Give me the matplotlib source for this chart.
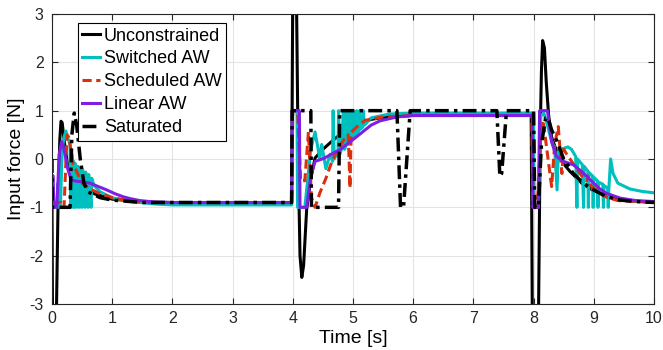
import matplotlib
matplotlib.use("Agg")
import matplotlib.pyplot as plt

# ---------------- data ----------------
unc_t = [0.0, 0.01, 0.07, 0.10, 0.13, 0.15, 0.17, 0.20, 0.25, 0.30, 0.40, 0.50, 0.70, 1.0, 1.5, 2.0,
         3.98, 4.0, 4.06, 4.09, 4.12, 4.15, 4.18, 4.23, 4.30, 4.37, 4.50, 4.67, 4.78, 5.0, 5.3, 5.6, 6.0,
         7.96, 7.98, 8.08, 8.11, 8.13, 8.15, 8.18, 8.21, 8.25, 8.30, 8.40, 8.50, 8.60, 8.80, 9.0, 9.3, 9.6, 10.0]
unc_v = [-0.9, -3.5, -3.5, -1.0, 0.4, 0.78, 0.75, 0.4, -0.05, -0.3, -0.5, -0.6, -0.72, -0.83, -0.89, -0.9,
         -0.9, 3.5, 3.5, 0.0, -2.0, -2.45, -2.2, -1.05, -0.4, 0.02, 0.2, 0.39, 0.5, 0.68, 0.82, 0.88, 0.9,
         0.9, -3.5, -3.5, 0.5, 1.8, 2.45, 2.3, 1.6, 0.9, 0.45, 0.1, -0.1, -0.25, -0.5, -0.66, -0.8, -0.86, -0.9]

sw_t = [0.0, 0.08, 0.10, 0.11, 0.13, 0.14, 0.17, 0.20, 0.23, 0.26, 0.30,
        0.31, 0.33, 0.35, 0.36, 0.38, 0.39, 0.42, 0.43, 0.46, 0.47, 0.50, 0.51, 0.55, 0.56, 0.60, 0.61, 0.65, 0.66,
        0.70, 0.80, 1.0, 1.3, 1.7, 2.0, 3.98,
        4.0, 4.07, 4.08, 4.2, 4.3, 4.37, 4.45, 4.48, 4.55, 4.62, 4.66, 4.67, 4.69, 4.72, 4.75, 4.76, 4.78,
        4.81, 4.84, 4.86, 4.89, 4.90, 4.92, 4.94, 4.95, 4.97, 4.99, 5.0, 5.02, 5.05, 5.06, 5.08, 5.10, 5.11,
        5.13, 5.16, 5.17, 5.19, 5.3, 5.6, 6.0, 7.97,
        8.0, 8.01, 8.08, 8.12, 8.17, 8.22, 8.28, 8.35, 8.39, 8.41, 8.45, 8.5, 8.57, 8.63, 8.70, 8.72, 8.73,
        8.81, 8.83, 8.84, 8.9, 8.91, 8.92, 8.98, 8.99, 9.0, 9.06, 9.07, 9.08, 9.15, 9.16, 9.17, 9.23, 9.24,
        9.25, 9.28, 9.32, 9.4, 9.6, 9.8, 10.0]
sw_v = [-0.95, -0.95, -0.5, -1.0, -0.3, -1.0, 0.2, 0.45, 0.58, 0.45, 0.3,
        -1.0, 0.1, -1.0, -0.05, -1.0, -0.1, -1.0, -0.15, -1.0, -0.2, -1.0, -0.22, -1.0, -0.27, -1.0, -0.32, -1.0, -0.4,
        -0.55, -0.68, -0.8, -0.88, -0.93, -0.95, -0.95,
        1.0, 1.0, -1.0, -1.0, 0.2, 0.56, 0.0, 0.3, -0.2, 0.1, -0.05, 1.0, 0.0, 0.1, 0.05, 1.0, 0.1,
        0.2, 1.0, 0.2, 0.3, 1.0, 0.3, 0.35, 1.0, 0.4, 0.45, 1.0, 0.45, 0.52, 1.0, 0.55, 0.6, 1.0,
        0.62, 0.66, 1.0, 0.7, 0.85, 0.93, 0.95, 0.95,
        0.95, -1.0, -1.0, 0.9, 0.95, 0.75, 0.45, 0.2, -0.64, 0.15, 0.2, 0.22, 0.25, 0.2, 0.05, -1.0, 0.0,
        -0.12, -1.0, -0.15, -0.25, -1.0, -0.28, -0.35, -1.0, -0.38, -0.45, -1.0, -0.48, -0.52, -1.0, -0.55, -0.6, -1.0,
        -0.62, 0.0, -0.3, -0.5, -0.62, -0.67, -0.7]

sch_t = [0.0, 0.15, 0.17, 0.20, 0.25, 0.28, 0.35, 0.50, 0.65, 0.80, 1.0, 1.3, 1.6, 3.98,
         4.0, 4.08, 4.13, 4.20, 4.26, 4.31, 4.37, 4.45, 4.55, 4.65, 4.75, 4.85, 4.92, 4.93, 4.95, 4.97,
         5.05, 5.2, 5.5, 6.0, 7.97,
         7.99, 8.06, 8.12, 8.16, 8.22, 8.30, 8.35, 8.41, 8.44, 8.47, 8.50, 8.55, 8.66, 8.80,
         8.88, 8.90, 8.95, 9.05, 9.21, 9.4, 10.0]
sch_v = [-0.9, -0.9, -1.0, -1.0, 0.5, 0.45, -0.1, -0.5, -0.63, -0.72, -0.8, -0.87, -0.9, -0.9,
         1.0, 1.0, -0.45, -0.45, 0.56, -0.8, -1.0, -0.7, -0.4, -0.05, 0.2, 0.4, 0.5, 0.19, -0.6, 0.55,
         0.65, 0.8, 0.87, 0.9, 0.9,
         -1.0, -1.0, 0.5, 0.8, 0.2, -0.57, 0.3, 0.67, 0.19, -0.3, 0.2, 0.1, -0.1, -0.35,
         -0.45, -0.35, -0.55, -0.65, -0.79, -0.86, -0.9]

lin_t = [0.0, 0.02, 0.03, 0.08, 0.12, 0.16, 0.20, 0.26, 0.32, 0.40, 0.50, 0.63, 0.75, 0.91, 1.05, 1.18,
         1.3, 1.46, 1.7, 2.0, 3.98,
         3.99, 4.11, 4.12, 4.23, 4.3, 4.37, 4.51, 4.78, 5.06, 5.2, 5.3, 5.45, 5.73, 6.0, 7.98,
         7.99, 8.08, 8.10, 8.23, 8.30, 8.38, 8.50, 8.66, 8.80, 8.94, 9.08, 9.21, 9.44, 9.7, 10.0]
lin_v = [-0.33, -0.35, -1.0, -1.0, 0.1, 0.36, 0.2, -0.2, -0.43, -0.46, -0.47, -0.5, -0.56, -0.64, -0.72, -0.78,
         -0.82, -0.86, -0.89, -0.9, -0.9,
         1.0, 1.0, -1.0, -1.0, -0.35, -0.05, 0.01, 0.19, 0.46, 0.6, 0.7, 0.79, 0.87, 0.9, 0.9,
         -1.0, -1.0, 1.0, 1.0, 0.35, 0.05, -0.05, -0.12, -0.26, -0.43, -0.6, -0.71, -0.81, -0.86, -0.88]

sat_t = [0.0, 0.005, 0.30, 0.33, 0.37, 0.41, 0.47, 0.53, 0.60, 0.80, 1.0, 1.5, 2.0, 3.98,
         3.99, 4.30, 4.31, 4.76, 4.78, 5.73, 5.79, 5.84, 5.95, 7.39, 7.44, 7.47, 7.55, 8.0,
         8.02, 8.08, 8.13, 8.20, 8.24, 8.30, 8.38, 8.50, 8.66, 8.80, 8.94, 9.21, 9.44, 9.7, 10.0]
sat_v = [0.0, -1.0, -1.0, 0.5, 0.95, 0.7, 0.0, -0.5, -0.68, -0.8, -0.85, -0.9, -0.9, -0.9,
         1.0, 1.0, -1.0, -1.0, 1.0, 1.0, -1.0, -1.0, 1.0, 1.0, -0.36, -0.3, 1.0, 1.0,
         -1.0, -1.0, 0.3, 0.85, 0.85, 0.6, 0.39, 0.0, -0.3, -0.47, -0.6, -0.78, -0.85, -0.88, -0.9]

x_ticks = [0, 1, 2, 3, 4, 5, 6, 7, 8, 9, 10]
y_ticks = [-3, -2, -1, 0, 1, 2, 3]
labels = ["Unconstrained", "Switched AW", "Scheduled AW", "Linear AW", "Saturated"]

# ---------------- plot ----------------
plt.rcParams["font.family"] = ["Liberation Sans", "DejaVu Sans"]
plt.rcParams["axes.unicode_minus"] = False
fig = plt.figure(figsize=(6.63, 3.5), dpi=100)
ax = fig.add_axes([0.0784, 0.1314, 0.908, 0.8286])

lw = 2.2
ax.plot(unc_t, unc_v, color="black", lw=lw, label=labels[0])
ax.plot(sw_t, sw_v, color="#00BFBF", lw=lw, label=labels[1])
ax.plot(sch_t, sch_v, color="#D9300E", lw=lw, ls=(0, (3, 1.5)), label=labels[2])
ax.plot(lin_t, lin_v, color="#7E1FE3", lw=lw, label=labels[3])
ax.plot(sat_t, sat_v, color="black", lw=lw + 0.3, ls=(0, (4, 1.5, 1, 1.5)), label=labels[4])

ax.set_xlim(0, 10)
ax.set_ylim(-3, 3)
ax.set_xticks(x_ticks)
ax.set_yticks(y_ticks)
ax.grid(True, color="#e3e3e3", lw=0.8)
ax.set_axisbelow(True)
ax.tick_params(direction="in", top=True, right=True, length=4, width=0.8,
               labelsize=11.5, colors="#262626")
ax.tick_params(axis="x", pad=5)
ax.tick_params(axis="y", pad=6)
for s in ax.spines.values():
    s.set_color("#262626")
    s.set_linewidth(0.8)
ax.set_xlabel("Time [s]", fontsize=14, labelpad=3)
ax.set_ylabel("Input force [N]", fontsize=14, labelpad=3)

leg = ax.legend(loc="upper left", bbox_to_anchor=(0.043, 0.969), borderaxespad=0,
                fontsize=13, handlelength=1.0, handletextpad=0.2, labelspacing=0.33,
                borderpad=0.25, fancybox=False, framealpha=1, edgecolor="black")
leg.get_frame().set_linewidth(0.8)

fig.savefig("out.png", dpi=100)
